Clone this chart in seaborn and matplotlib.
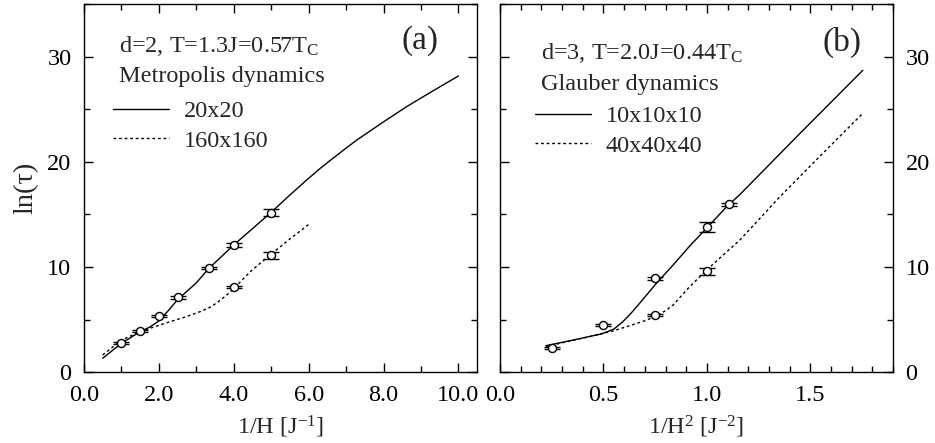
import numpy as np
import pandas as pd
import matplotlib
matplotlib.use("Agg")
import matplotlib.pyplot as plt
import seaborn as sns
from matplotlib.ticker import MultipleLocator, FormatStrFormatter

# ---------------- data ----------------
# panel (a): d=2, Metropolis dynamics
a_curve20_x = [0.5, 1.0, 1.5, 1.76, 2.0, 2.25, 2.5, 3.0, 3.33, 4.0, 4.5, 5.0, 5.5, 5.95, 6.3, 6.6, 7.0, 7.29, 8.0, 8.62, 9.3, 10.0]
a_curve20_y = [1.33, 2.76, 3.86, 4.3, 4.88, 5.85, 6.9, 8.5, 9.85, 12.1, 13.65, 15.2, 16.85, 18.28, 19.35, 20.2, 21.3, 22.08, 23.8, 25.25, 26.7, 28.16]
a_curve160_x = [0.5, 1.0, 1.5, 1.76, 2.3, 2.7, 3.1, 3.35, 3.55, 3.8, 4.0, 4.44, 4.97, 5.51, 6.04]
a_curve160_y = [1.65, 3.05, 3.86, 4.18, 4.81, 5.25, 5.76, 6.15, 6.6, 7.3, 7.95, 9.56, 11.15, 12.7, 14.16]
a_pts20_x = [1.0, 1.5, 2.0, 2.5, 3.33, 4.0, 5.0]
a_pts20_y = [2.76, 3.96, 5.35, 7.13, 9.91, 12.1, 15.17]
a_pts20_err = [0.1, 0.1, 0.12, 0.12, 0.1, 0.15, 0.35]
a_pts160_x = [4.0, 5.0]
a_pts160_y = [8.11, 11.12]
a_pts160_err = [0.12, 0.35]

# panel (b): d=3, Glauber dynamics
b_curve10_x = [0.222, 0.35, 0.489, 0.55, 0.594, 0.635, 0.675, 0.756, 0.837, 0.917, 0.999, 1.096, 1.16, 1.45, 1.754]
b_curve10_y = [2.53, 3.05, 3.64, 4.1, 4.81, 5.65, 6.56, 8.46, 10.2, 12.0, 13.7, 15.74, 16.9, 22.7, 28.7]
b_curve40_x = [0.222, 0.432, 0.55, 0.63, 0.7, 0.748, 0.8, 0.837, 0.917, 0.999, 1.079, 1.16, 1.354, 1.55, 1.751]
b_curve40_y = [2.45, 3.39, 3.95, 4.45, 4.9, 5.29, 5.85, 6.4, 8.14, 9.72, 11.15, 12.58, 16.7, 20.6, 24.55]
b_pts10_x = [0.25, 0.5, 0.75, 1.0, 1.108]
b_pts10_y = [2.34, 4.47, 8.93, 13.81, 15.96]
b_pts10_err = [0.1, 0.1, 0.12, 0.45, 0.12]
b_pts40_x = [0.75, 1.0]
b_pts40_y = [5.48, 9.6]
b_pts40_err = [0.1, 0.35]

# ---------------- style ----------------
sns.set_theme(style="white")
plt.rcParams['font.family'] = ['Liberation Serif', 'DejaVu Serif']
plt.rcParams['mathtext.fontset'] = 'custom'
plt.rcParams['mathtext.rm'] = 'Liberation Serif'
plt.rcParams['mathtext.it'] = 'Liberation Serif:italic'
plt.rcParams['axes.edgecolor'] = 'black'
plt.rcParams['axes.linewidth'] = 1.0

FS = 17.5

fig = plt.figure(figsize=(9.35, 4.43), dpi=100)
axA = fig.add_axes([0.0898, 0.1596, 0.4205, 0.8314])
axB = fig.add_axes([0.5348, 0.1596, 0.4203, 0.8314])


def draw(ax, cx1, cy1, cx2, cy2, px1, py1, pe1, px2, py2, pe2, lab1, lab2):
    df1 = pd.DataFrame({'x': cx1, 'y': cy1})
    df2 = pd.DataFrame({'x': cx2, 'y': cy2})
    sns.lineplot(data=df1, x='x', y='y', ax=ax, color='black', lw=1.0,
                 estimator=None, sort=False, label=lab1)
    sns.lineplot(data=df2, x='x', y='y', ax=ax, color='black', lw=1.0,
                 estimator=None, sort=False, label=lab2, linestyle=(0, (2, 2)))
    for px, py, pe in [(px1, py1, pe1), (px2, py2, pe2)]:
        ax.errorbar(px, py, yerr=pe, fmt='o', ms=5.8, mfc='white', mec='black',
                    mew=1.0, ecolor='black', elinewidth=1.0, capsize=5.5,
                    capthick=1.0, zorder=5)


def style(ax, xmaj, xmin_, xlim, right_labels):
    ax.set_ylim(0, 35)
    ax.set_xlim(*xlim)
    ax.yaxis.set_major_locator(MultipleLocator(10))
    ax.yaxis.set_minor_locator(MultipleLocator(5))
    ax.xaxis.set_major_locator(MultipleLocator(xmaj))
    ax.xaxis.set_minor_locator(MultipleLocator(xmin_))
    ax.xaxis.set_major_formatter(FormatStrFormatter('%.1f'))
    ax.tick_params(which='both', direction='in', top=True, right=True,
                   bottom=True, left=True, labelsize=FS, colors='black', pad=9)
    ax.tick_params(which='major', length=6.5, width=1.0)
    ax.tick_params(which='minor', length=4, width=1.0)
    if right_labels:
        ax.tick_params(labelleft=False, labelright=True)
    for s in ax.spines.values():
        s.set_visible(True)
        s.set_color('black')


draw(axA, a_curve20_x, a_curve20_y, a_curve160_x, a_curve160_y,
     a_pts20_x, a_pts20_y, a_pts20_err, a_pts160_x, a_pts160_y, a_pts160_err,
     '20x20', '160x160')
style(axA, 2.0, 1.0, (0, 10.5), False)
axA.set_xlabel(r'1/H [J$^{-1}$]', fontsize=FS, labelpad=6)
axA.set_ylabel(r'ln(τ)', fontsize=20.5, labelpad=6)

draw(axB, b_curve10_x, b_curve10_y, b_curve40_x, b_curve40_y,
     b_pts10_x, b_pts10_y, b_pts10_err, b_pts40_x, b_pts40_y, b_pts40_err,
     '10x10x10', '40x40x40')
style(axB, 0.5, 0.1, (0, 1.9), True)
axB.set_xlabel(r'1/H$^2$ [J$^{-2}$]', fontsize=FS, labelpad=6)
axB.set_ylabel('')

# annotations and legends
panels = [
    (axA, r'd=2, T=1.3J=0.57T$_\mathrm{C}$', 'Metropolis dynamics', '(a)',
     0.089, 0.870, 0.789, 0.855, 0.900, 0.074, 0.738),
    (axB, r'd=3, T=2.0J=0.44T$_\mathrm{C}$', 'Glauber dynamics', '(b)',
     0.104, 0.850, 0.767, 0.870, 0.895, 0.089, 0.725),
]
for (ax, t1, t2, tag, tx, ty1, ty2, gx, gy, lx, ly) in panels:
    ax.text(tx, ty1, t1, transform=ax.transAxes, fontsize=FS, va='baseline', ha='left')
    ax.text(tx, ty2, t2, transform=ax.transAxes, fontsize=FS, va='baseline', ha='left')
    ax.text(gx, gy, tag, transform=ax.transAxes, fontsize=24, va='center', ha='center')
    ax.legend(loc='upper left', bbox_to_anchor=(lx, ly), frameon=False, fontsize=FS,
              handlelength=2.3, handletextpad=0.6, labelspacing=0.3,
              borderaxespad=0.0, borderpad=0.0)

fig.savefig('out.png', dpi=100)
